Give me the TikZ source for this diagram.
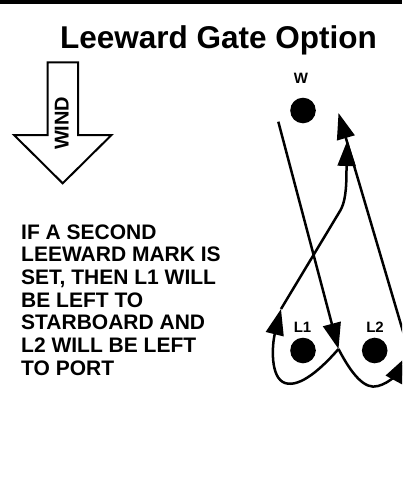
\documentclass[tikz,border=0pt]{standalone}
\usepackage{fontspec}
\setmainfont{Liberation Sans}
\usetikzlibrary{arrows.meta}

\begin{document}
\begin{tikzpicture}[x=1pt, y=-1pt,
    buoy/.style={circle, fill=black, minimum size=25.6pt, inner sep=0pt},
    tag/.style={font=\fontsize{15}{18}\selectfont\bfseries, inner sep=0pt, anchor=base},
    course/.style={line width=2.5pt},
    tip/.style={-{Triangle[length=26pt, width=18pt]}}]
            \useasboundingbox (0,0) rectangle (402,477);
            \clip (0,0) rectangle (402,477);
            % Header
            \fill (0,0) rectangle (402,4);
            \node[font=\fontsize{31.5}{36}\selectfont\bfseries, anchor=base] (title) at (218.5,48) {Leeward Gate Option};
            % Wind arrow
            \draw[line width=2pt] (47.5,62.3) -- (78,62.3) -- (78,135) -- (111.5,135) -- (62.7,183.3) -- (14,135) -- (47.5,135) -- cycle;
            \node[rotate=90, inner sep=0pt, font=\fontsize{20}{24}\selectfont\bfseries] (wind) at (61.7,123.3) {WIND};
            % Note
            \node[anchor=north west, align=left, inner sep=0pt, font=\fontsize{21}{22.7}\selectfont\bfseries] (note) at (21,224.3) {IF A SECOND\\LEEWARD MARK IS\\SET, THEN L1 WILL\\BE LEFT TO\\STARBOARD AND\\L2 WILL BE LEFT\\TO PORT};
            % Marks
            \node[buoy] (W) at (303,110.5) {};
            \node[buoy] (L1) at (303,350.5) {};
            \node[buoy] (L2) at (374.7,350.5) {};
            \node[tag] (Wtag) at (301,83.3) {W};
            \node[tag] (L1tag) at (302.5,332.5) {L1};
            \node[tag] (L2tag) at (375,332.5) {L2};
            % Course
            \coordinate (start) at (278.3,121.7);
            \coordinate (gate) at (338.5,349);
            \coordinate (round1) at (281,309);
            \coordinate (bend) at (340,211);
            \coordinate (top1) at (347.5,140);
            \coordinate (round2) at (406,357);
            \coordinate (back2) at (407,345);
            \coordinate (top2) at (338.5,113);
            \draw[course, tip] (start) -- (gate);
            \draw[course, tip] (gate) .. controls (322,368) and (300,388) .. (285,383) .. controls (270,378) and (272,345) .. (round1);
            \draw[course, tip] (round1) -- (bend) .. controls (345,203) and (346.5,190) .. (346.5,170) -- (top1);
            \draw[course, tip] (gate) .. controls (352,375) and (365,390) .. (378,386) .. controls (390,383) and (398,372) .. (round2);
            \draw[course, tip] (back2) -- (top2);
        \end{tikzpicture}
\end{document}
